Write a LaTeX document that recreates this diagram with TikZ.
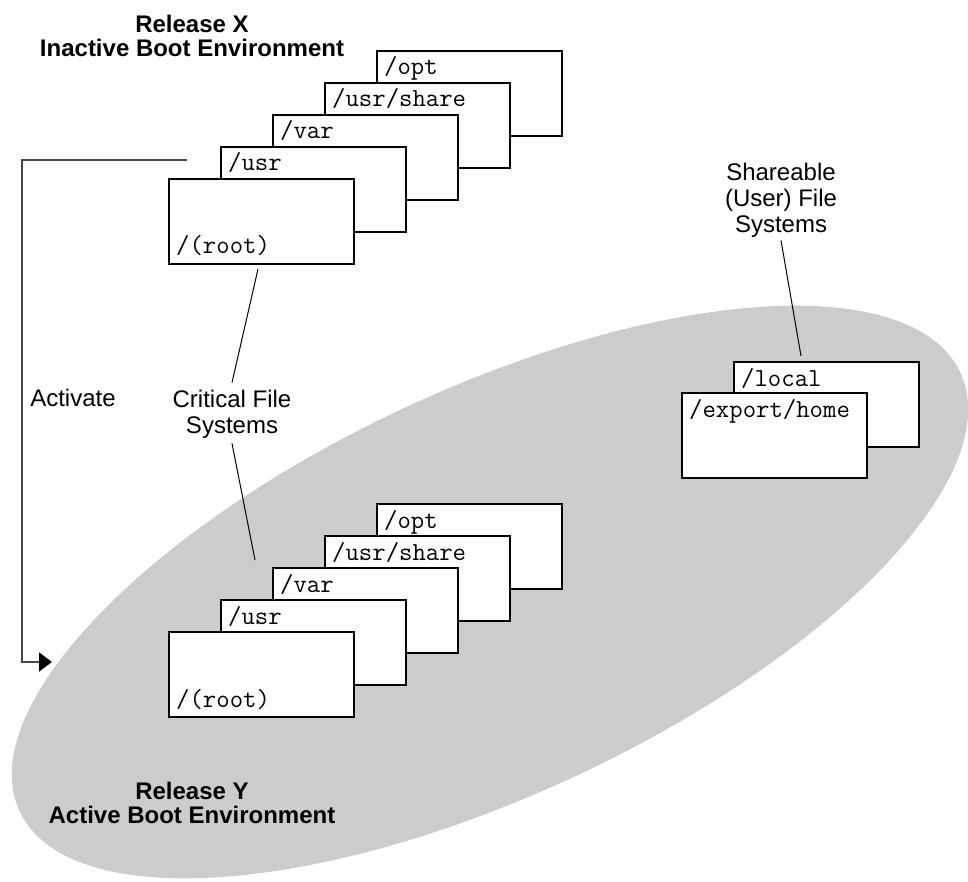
\documentclass[tikz,border=0pt]{standalone}
\usepackage{fontspec}
\setmainfont{Liberation Sans}
\usetikzlibrary{arrows.meta}
\definecolor{envgray}{RGB}{204,204,204}
\definecolor{flowline}{RGB}{70,70,70}
\tikzset{
  fsbox/.style={draw=black, line width=1.2pt, fill=white, anchor=north west,
    minimum width=185pt, minimum height=85pt, inner sep=0pt, outer sep=0pt},
  fsname/.style={font=\ttfamily\fontsize{26}{26}\selectfont, anchor=base west, inner sep=0pt},
  envtitle/.style={font=\bfseries\fontsize{24}{24}\selectfont, align=center, inner sep=0pt},
  caption/.style={font=\fontsize{24}{26}\selectfont, align=center, inner sep=0pt},
  leader/.style={line width=1pt, black},
  flow/.style={line width=1.6pt, flowline, -{Triangle[length=13pt,width=19pt,color=black,fill=black]}},
}
\begin{document}
\begin{tikzpicture}[x=1pt,y=-1pt]
\useasboundingbox (0,0) rectangle (968,882);

% active boot environment (grey ellipse)
\begin{scope}[shift={(490,592)}, rotate=25]
  \fill[envgray] (0,0) ellipse [x radius=519, y radius=203];
\end{scope}

% titles
\node[envtitle] (relx) at (192,36) {Release X\\Inactive Boot Environment};
\node[envtitle] (rely) at (192,803) {Release Y\\Active Boot Environment};

% inactive environment: critical file systems
\node[fsbox] (xopt) at (377,51) {};
\node[fsname] (xoptL) at ([xshift=7pt,yshift=-24pt]xopt.north west) {/opt};
\node[fsbox] (xshare) at (325,83) {};
\node[fsname] (xshareL) at ([xshift=7pt,yshift=-24pt]xshare.north west) {/usr/share};
\node[fsbox] (xvar) at (273,115) {};
\node[fsname] (xvarL) at ([xshift=7pt,yshift=-24pt]xvar.north west) {/var};
\node[fsbox] (xusr) at (221,147) {};
\node[fsname] (xusrL) at ([xshift=7pt,yshift=-24pt]xusr.north west) {/usr};
\node[fsbox] (xroot) at (169,179) {};
\node[fsname] (xrootL) at ([xshift=7pt,yshift=10pt]xroot.south west) {/(root)};

% active environment: critical file systems
\node[fsbox] (yopt) at (377,504) {};
\node[fsname] (yoptL) at ([xshift=7pt,yshift=-24pt]yopt.north west) {/opt};
\node[fsbox] (yshare) at (325,536) {};
\node[fsname] (yshareL) at ([xshift=7pt,yshift=-24pt]yshare.north west) {/usr/share};
\node[fsbox] (yvar) at (273,568) {};
\node[fsname] (yvarL) at ([xshift=7pt,yshift=-24pt]yvar.north west) {/var};
\node[fsbox] (yusr) at (221,600) {};
\node[fsname] (yusrL) at ([xshift=7pt,yshift=-24pt]yusr.north west) {/usr};
\node[fsbox] (yroot) at (169,632) {};
\node[fsname] (yrootL) at ([xshift=7pt,yshift=10pt]yroot.south west) {/(root)};

% shareable file systems
\node[fsbox] (local) at (734,362) {};
\node[fsname] (localL) at ([xshift=7pt,yshift=-24pt]local.north west) {/local};
\node[fsbox] (home) at (682,393) {};
\node[fsname] (homeL) at ([xshift=7pt,yshift=-24pt]home.north west) {/export/home};

% captions
\node[caption] (activate) at (73,398) {Activate};
\node[caption] (critical) at (232,414) {Critical File\\Systems};
\node[caption] (shareable) at (781,200) {Shareable\\(User) File\\Systems};

% leader lines
\coordinate (critUp) at (258,269);
\coordinate (critDown) at (255,560);
\draw[leader] (critUp) -- ([yshift=7pt]critical.north);
\draw[leader] ([yshift=-5pt]critical.south) -- (critDown);
\coordinate (shareEnd) at (801,356);
\draw[leader] ([yshift=-3pt]shareable.south) -- (shareEnd);

% activation arrow
\coordinate (actStart) at (187,160);
\coordinate (actEnd) at (52,662);
\draw[flow] (actStart) -- (22,160) -- (22,662) -- (actEnd);
\end{tikzpicture}
\end{document}
